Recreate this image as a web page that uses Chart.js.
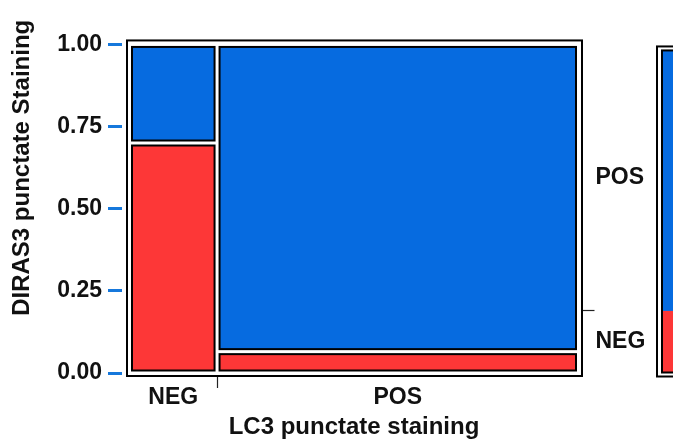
<!DOCTYPE html>
<html>
<head>
<meta charset="utf-8">
<script src="https://cdn.jsdelivr.net/npm/chart.js@4.4.1/dist/chart.umd.min.js"></script>
<style>
  html, body { margin: 0; padding: 0; background: #fff; }
  #wrap { width: 673px; height: 446px; }
</style>
</head>
<body>
<div id="wrap"><canvas id="mosaico"></canvas></div>
<script>
// mosaic: LC3 punctate staining (x) vs DIRAS3 punctate staining (y)
const lc3Groups = ['NEG', 'POS'];
const lc3Share = [0.195, 0.805];        // largura de cada coluna
const dirasNegShare = [0.70, 0.065];    // parte vermelha (DIRAS3 NEG) em cada coluna
const dirasLevels = ['NEG', 'POS'];
const yTicks = [0, 0.25, 0.5, 0.75, 1];

const BLUE = '#066be0';
const RED = '#fd3737';
const TICK_BLUE = '#1678dc';
const TXT = '#111';
const FONT = 'Liberation Sans, Arial, sans-serif';
const Y_TOP = 1.075; // espaço acima de 1.00 para o título

// limites das colunas
const colStart = [];
lc3Share.reduce((acc, s) => { colStart.push(acc); return acc + s; }, 0);

// ticks do eixo x: meio de cada coluna + fronteira
const xTickVals = [];
const xTickLabels = [];
lc3Groups.forEach((g, i) => {
  if (i > 0) { xTickVals.push(colStart[i]); xTickLabels.push(''); }
  xTickVals.push(colStart[i] + lc3Share[i] / 2);
  xTickLabels.push(g);
});

// proporção total de DIRAS3 NEG (barra marginal à direita)
const negAll = lc3Share.reduce((acc, s, i) => acc + s * dirasNegShare[i], 0);
const rTickVals = [negAll / 2, negAll, (1 + negAll) / 2];
const rTickLabels = [dirasLevels[0], '', dirasLevels[1]];

const tickFont = { family: FONT, size: 23, weight: 'bold' };
const titleFont = { family: FONT, size: 24, weight: 'bold' };

const mosaicPlugin = {
  id: 'mosaico',
  afterDatasetsDraw(chart) {
    const { ctx, scales: { x, y } } = chart;
    const X = v => x.getPixelForValue(v);
    const Y = v => y.getPixelForValue(v);
    ctx.save();
    ctx.lineJoin = 'miter';

    // moldura externa
    const fl = X(0) - 2.5, fr = X(1) + 3.5, ft = Y(1) - 4, fb = Y(0) + 3;
    ctx.fillStyle = '#fff';
    ctx.fillRect(fl, ft, fr - fl, fb - ft);
    ctx.strokeStyle = '#000';
    ctx.lineWidth = 2;
    ctx.strokeRect(fl, ft, fr - fl, fb - ft);

    const cell = (x0, x1, y0, y1, color) => {
      const inset = 2.5;
      const l = X(x0) + inset, r = X(x1) - inset;
      const t = Y(y1) + inset, b = Y(y0) - inset;
      ctx.fillStyle = color;
      ctx.fillRect(l, t, r - l, b - t);
      ctx.strokeStyle = '#000';
      ctx.lineWidth = 2;
      ctx.strokeRect(l, t, r - l, b - t);
    };

    lc3Groups.forEach((g, i) => {
      const x0 = colStart[i], x1 = colStart[i] + lc3Share[i];
      cell(x0, x1, 0, dirasNegShare[i], RED);
      cell(x0, x1, dirasNegShare[i], 1, BLUE);
    });

    // barra marginal (cortada na borda direita)
    const ml = chart.chartArea.right + 78.5;
    const mr = ml + 60;
    const mt = Y(1) + 2, mb = Y(0) + 3.5;
    ctx.fillStyle = '#fff';
    ctx.fillRect(ml, mt, mr - ml, mb - mt);
    ctx.lineWidth = 2;
    ctx.strokeStyle = '#000';
    ctx.strokeRect(ml, mt, mr - ml, mb - mt);
    const cl = ml + 5, ct = mt + 4, cb = mb - 4;
    ctx.fillStyle = BLUE;
    ctx.fillRect(cl, ct, mr - cl, Y(negAll) - ct);
    ctx.fillStyle = RED;
    ctx.fillRect(cl, Y(negAll), mr - cl, cb - Y(negAll));
    ctx.strokeRect(cl, ct, mr - cl + 10, cb - ct);

    ctx.restore();
  }
};

new Chart(document.getElementById('mosaico'), {
  type: 'scatter',
  data: { datasets: [] },
  options: {
    responsive: true,
    maintainAspectRatio: false,
    animation: false,
    layout: { padding: { top: 16, right: 16, bottom: 0, left: 0 } },
    plugins: { legend: { display: false }, tooltip: { enabled: false } },
    scales: {
      x: {
        type: 'linear', min: 0, max: 1,
        afterBuildTicks: s => { s.ticks = xTickVals.map(v => ({ value: v })); },
        afterFit: s => { s.height = 73; },
        ticks: {
          autoSkip: false, maxRotation: 0, padding: -4, color: TXT, font: tickFont,
          callback: (v, i) => xTickLabels[i]
        },
        grid: {
          drawOnChartArea: false, tickLength: 15, tickWidth: 1.2,
          tickColor: c => (xTickLabels[c.index] === '' ? '#222' : 'rgba(0,0,0,0)')
        },
        border: { display: false },
        title: {
          display: true, text: 'LC3 punctate staining', color: TXT, font: titleFont,
          padding: { top: 0, bottom: 4 }
        }
      },
      y: {
        type: 'linear', position: 'left', min: 0, max: Y_TOP,
        afterBuildTicks: s => { s.ticks = yTicks.map(v => ({ value: v })); },
        afterFit: s => { s.width = 129.5; },
        ticks: { padding: 6, color: TXT, font: tickFont, callback: v => v.toFixed(2) },
        grid: {
          drawOnChartArea: false, tickLength: 21.5, tickWidth: 3, tickColor: TICK_BLUE,
          tickBorderDash: [14, 40]
        },
        border: { display: false },
        title: {
          display: true, text: 'DIRAS3 punctate Staining', align: 'end', color: TXT,
          font: titleFont, padding: { top: 8 }
        }
      },
      y2: {
        type: 'linear', position: 'right', min: 0, max: Y_TOP,
        afterBuildTicks: s => { s.ticks = rTickVals.map(v => ({ value: v })); },
        afterFit: s => { s.width = 78.5; },
        ticks: {
          padding: 1, color: TXT, font: tickFont,
          callback: (v, i) => rTickLabels[i]
        },
        grid: {
          drawOnChartArea: false, tickLength: 16, tickWidth: 1.2,
          tickColor: c => (rTickLabels[c.index] === '' ? '#222' : 'rgba(0,0,0,0)')
        },
        border: { display: false }
      }
    }
  },
  plugins: [mosaicPlugin]
});
</script>
</body>
</html>
